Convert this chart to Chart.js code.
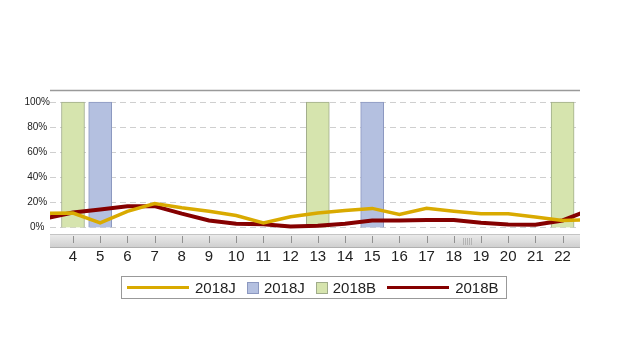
<!DOCTYPE html>
<html><head><meta charset="utf-8">
<script src="https://cdn.jsdelivr.net/npm/chart.js@4"></script>
<style>
html,body{margin:0;padding:0;background:#fff;}
#wrap{position:relative;width:630px;height:358px;overflow:hidden;}
#legend{position:absolute;left:121px;top:276px;width:386px;height:23px;border:1px solid #999;box-sizing:border-box;
  display:flex;align-items:center;padding-left:5px;font:15px "Liberation Sans",Arial,sans-serif;color:#222;white-space:nowrap;}
#legend .ln{display:inline-block;width:62px;height:3px;margin-right:6px;}
#legend .sq{display:inline-block;width:12px;height:12px;box-sizing:border-box;margin-right:5px;}
#legend .tx{margin-right:11px;}
</style></head>
<body>
<div id="wrap">
<canvas id="c" width="630" height="358"></canvas>
<div id="legend"></div>
</div>
<script>
// ---- data ----
const categories = [3,4,5,6,7,8,9,10,11,12,13,14,15,16,17,18,19,20,21,22,23];
const tickLabels = [4,5,6,7,8,9,10,11,12,13,14,15,16,17,18,19,20,21,22];
const line2018J = [11.4,11.5,3.7,12.8,19,15.7,13,9.5,3.6,8.5,11.5,13.6,15.2,10.4,15.3,13,11,11,8.3,5.6,6.2];
const line2018B = [7.3,12,14.4,17,17,11,5.6,3,2.5,0.8,1.3,3,5.6,5.6,6,6,3.7,2.4,2.1,5.6,14];
const bar2018JCats = [5,15];
const bar2018JVals = [100,100];
const bar2018BCats = [4,13,22];
const bar2018BVals = [100,100,100];
const yTicks = [0,20,40,60,80,100];

const cYellow = '#d9aa00', cRed = '#850000';
const cBlueFill = 'rgb(180,192,224)', cBlueBorder = 'rgb(140,152,192)';
const cGreenFill = 'rgb(214,228,174)', cGreenBorder = 'rgb(160,172,138)';

const pts = (xsArr, ys) => xsArr.map((x,i)=>({x:x,y:ys[i]}));

const decor = {
  id:'decor',
  beforeDatasetsDraw(chart){
    const {ctx, chartArea:a, scales:{y}} = chart;
    ctx.save();
    ctx.strokeStyle = '#cfcfcf'; ctx.lineWidth = 1; ctx.setLineDash([6,4]);
    yTicks.forEach(v=>{
      const py = Math.round(y.getPixelForValue(v))+0.5;
      ctx.beginPath(); ctx.moveTo(a.left, py); ctx.lineTo(a.right, py); ctx.stroke();
    });
    ctx.restore();
  },
  afterDraw(chart){
    const {ctx, chartArea:a, scales:{x}} = chart;
    ctx.save();
    // top border line
    ctx.strokeStyle = '#9a9a9a'; ctx.lineWidth = 1.5;
    ctx.beginPath(); ctx.moveTo(a.left, a.top+0.5); ctx.lineTo(a.right, a.top+0.5); ctx.stroke();
    // scroll band
    const bt = a.bottom, bh = 14;
    const g = ctx.createLinearGradient(0, bt, 0, bt+bh);
    g.addColorStop(0,'#ececec'); g.addColorStop(1,'#cdcdcd');
    ctx.fillStyle = g; ctx.fillRect(a.left, bt, a.right-a.left, bh);
    ctx.lineWidth = 1;
    ctx.strokeStyle = '#c4c4c4';
    ctx.beginPath(); ctx.moveTo(a.left, bt+0.5); ctx.lineTo(a.right, bt+0.5); ctx.stroke();
    ctx.strokeStyle = '#b0b0b0';
    ctx.beginPath(); ctx.moveTo(a.left, bt+bh-0.5); ctx.lineTo(a.right, bt+bh-0.5); ctx.stroke();
    // ticks
    ctx.strokeStyle = '#909090';
    tickLabels.forEach(v=>{
      const px = Math.round(x.getPixelForValue(v))+0.5;
      ctx.beginPath(); ctx.moveTo(px, bt+2); ctx.lineTo(px, bt+9); ctx.stroke();
    });
    // grip
    const gx = Math.round(a.left + (a.right-a.left)*0.779);
    ctx.strokeStyle = '#b4b4b4';
    for (let i=0;i<5;i++){ ctx.beginPath(); ctx.moveTo(gx+i*2+0.5, bt+4); ctx.lineTo(gx+i*2+0.5, bt+11); ctx.stroke(); }
    ctx.restore();
  }
};

new Chart(document.getElementById('c'), {
  data:{
    datasets:[
      {type:'line', label:'2018J', data:pts(categories,line2018J), borderColor:cYellow, borderWidth:3.5,
       pointRadius:0, tension:0, order:0, clip:0},
      {type:'bar', label:'2018J', data:pts(bar2018JCats,bar2018JVals), backgroundColor:cBlueFill, borderColor:cBlueBorder,
       borderWidth:1, barThickness:23, grouped:false, order:2},
      {type:'bar', label:'2018B', data:pts(bar2018BCats,bar2018BVals), backgroundColor:cGreenFill, borderColor:cGreenBorder,
       borderWidth:1, barThickness:23, grouped:false, order:2},
      {type:'line', label:'2018B', data:pts(categories,line2018B), borderColor:cRed, borderWidth:4,
       pointRadius:0, tension:0, order:1, clip:0}
    ]
  },
  options:{
    responsive:false, animation:false, events:[],
    layout:{padding:{left:0,right:50,top:90,bottom:84}},
    plugins:{legend:{display:false}, tooltip:{enabled:false}},
    scales:{
      x:{type:'linear', bounds:'data', offset:false, min:3.155, max:22.64,
        afterBuildTicks:s=>{ s.ticks = tickLabels.map(v=>({value:v})); },
        afterFit:s=>{ s.height = 40; },
        grid:{display:false, drawTicks:false, offset:false}, border:{display:false},
        ticks:{autoSkip:false, maxRotation:0, padding:14, color:'#222',
          font:{family:'"Liberation Sans", Arial, sans-serif', size:15}}
      },
      y:{type:'linear', bounds:'data', min:-5.2, max:109.6,
        afterBuildTicks:s=>{ s.ticks = yTicks.map(v=>({value:v})); },
        afterFit:s=>{ s.width = 50; },
        grid:{display:false, drawTicks:false}, border:{display:false},
        ticks:{padding:0, crossAlign:'center', color:'#222', callback:v=>v+'%',
          font:{family:'"Liberation Sans", Arial, sans-serif', size:10}}
      }
    }
  },
  plugins:[decor]
});

// legend
const legendItems = [
  {kind:'ln', color:cYellow, text:'2018J'},
  {kind:'sq', color:cBlueFill, border:cBlueBorder, text:'2018J'},
  {kind:'sq', color:cGreenFill, border:cGreenBorder, text:'2018B'},
  {kind:'ln', color:cRed, text:'2018B'}
];
const lg = document.getElementById('legend');
legendItems.forEach((it,i)=>{
  const m = document.createElement('span');
  m.className = it.kind;
  m.style.background = it.color;
  if (it.border) m.style.border = '1px solid '+it.border;
  const t = document.createElement('span');
  t.className = 'tx'; t.textContent = it.text;
  if (i===legendItems.length-1) t.style.marginRight = '0';
  lg.appendChild(m); lg.appendChild(t);
});
</script>
</body></html>
